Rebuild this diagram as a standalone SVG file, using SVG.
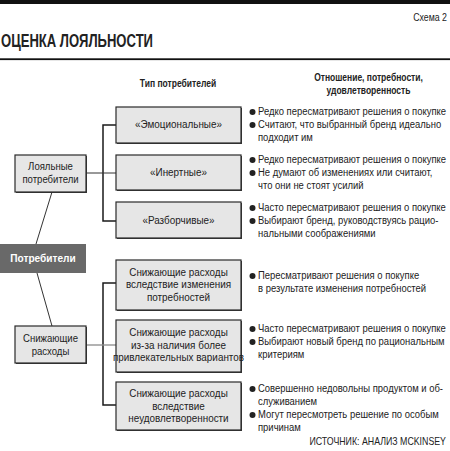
<svg xmlns="http://www.w3.org/2000/svg" width="450" height="451" viewBox="0 0 450 451">
<style>
text{font-family:"Liberation Sans",Arial,sans-serif;fill:#222}
.t{font-size:11px}
.c{text-anchor:middle}
.h{font-size:10.5px;font-weight:bold;text-anchor:middle}
.box{fill:#e6e6e6;stroke:#2a2a2a;stroke-width:1.2}
.sh{fill:#3a3a3a}
.ln{stroke:#1a1a1a;stroke-width:1.5;fill:none}
.lt{stroke:#333;stroke-width:1;fill:none}
.lg{stroke:#8a8a8a;stroke-width:1.3;fill:none}
</style>
<rect x="0" y="0" width="450" height="451" fill="#fff"/>
<rect x="0" y="0" width="450" height="4" fill="#111"/>
<g transform="matrix(0.8 0 0 1 89.4 0)"><text x="447" y="21" class="t" text-anchor="end" fill="#333">Схема 2</text></g>
<text x="1" y="47" font-size="18" font-weight="bold" textLength="152" lengthAdjust="spacingAndGlyphs" fill="#111">ОЦЕНКА ЛОЯЛЬНОСТИ</text>
<rect x="0" y="58.3" width="450" height="1.8" fill="#111"/>
<g transform="matrix(0.81 0 0 1 33.82 0)"><text x="178" y="87" class="h">Тип потребителей</text></g>
<g transform="matrix(0.81 0 0 1 70.02 0)">
<text x="368.5" y="81" class="h">Отношение, потребности,</text>
<text x="368.5" y="94" class="h">удовлетворенность</text>
</g>

<g id="connectors">
<path class="ln" d="M116,125 H103 V221 H116"/>
<path class="lt" d="M86,173 H116"/>
<path class="ln" d="M116,283 H103 V405 H116"/>
<path class="lg" d="M86,345 H116"/>
<path class="lt" d="M52,192 L36,244"/>
<path class="lt" d="M37,273 L52,326"/>
</g>

<g id="root">
<rect x="0" y="244" width="86" height="29" fill="#696969"/>
<g transform="matrix(0.92 0 0 1 3.44 0)"><text x="43" y="262.5" class="c" font-size="11" font-weight="bold" style="fill:#fff">Потребители</text></g>
</g>
<g id="loyal">
<rect class="sh" x="16" y="156" width="71" height="37"/>
<rect class="box" x="15" y="155" width="71" height="37"/>
<g transform="matrix(0.87 0 0 1 6.565 0)">
<text x="50.5" y="170" class="t c">Лояльные</text>
<text x="50.5" y="183" class="t c">потребители</text>
</g>
</g>
<g id="reducing">
<rect class="sh" x="16" y="327" width="71" height="37"/>
<rect class="box" x="15" y="326" width="71" height="37"/>
<g transform="matrix(0.87 0 0 1 6.565 0)">
<text x="50.5" y="342.5" class="t c">Снижающие</text>
<text x="50.5" y="355" class="t c">расходы</text>
</g>
</g>

<g id="emo">
<rect class="sh" x="117" y="108" width="125" height="36"/>
<rect class="box" x="116" y="107" width="125" height="36"/>
<g transform="matrix(0.9 0 0 1 17.85 0)"><text x="178.5" y="128.5" class="t c">«Эмоциональные»</text></g>
</g>
<g id="inert">
<rect class="sh" x="117" y="156" width="125" height="35"/>
<rect class="box" x="116" y="155" width="125" height="35"/>
<g transform="matrix(0.9 0 0 1 17.85 0)"><text x="178.5" y="176.5" class="t c">«Инертные»</text></g>
</g>
<g id="picky">
<rect class="sh" x="117" y="203" width="125" height="36"/>
<rect class="box" x="116" y="202" width="125" height="36"/>
<g transform="matrix(0.9 0 0 1 17.85 0)"><text x="178.5" y="224.5" class="t c">«Разборчивые»</text></g>
</g>
<g id="needs">
<rect class="sh" x="117" y="261" width="125" height="50"/>
<rect class="box" x="116" y="260" width="125" height="50"/>
<g transform="matrix(0.9 0 0 1 17.85 0)">
<text x="178.5" y="276" class="t c">Снижающие расходы</text>
<text x="178.5" y="288.5" class="t c">вследствие изменения</text>
<text x="178.5" y="301" class="t c">потребностей</text>
</g>
</g>
<g id="better">
<rect class="sh" x="117" y="321" width="125" height="52"/>
<rect class="box" x="116" y="320" width="125" height="52"/>
<g transform="matrix(0.9 0 0 1 17.85 0)">
<text x="178.5" y="336.5" class="t c">Снижающие расходы</text>
<text x="178.5" y="349" class="t c">из-за наличия более</text>
<text x="178.5" y="361.5" class="t c">привлекательных вариантов</text>
</g>
</g>
<g id="unsat">
<rect class="sh" x="117" y="383" width="125" height="48"/>
<rect class="box" x="116" y="382" width="125" height="48"/>
<g transform="matrix(0.9 0 0 1 17.85 0)">
<text x="178.5" y="397.5" class="t c">Снижающие расходы</text>
<text x="178.5" y="410" class="t c">вследствие</text>
<text x="178.5" y="422.5" class="t c">неудовлетворенности</text>
</g>
</g>

<g id="bullets" fill="#222">
<circle cx="252.5" cy="112" r="3"/>
<circle cx="252.5" cy="125" r="3"/>
<circle cx="252.5" cy="160" r="3"/>
<circle cx="252.5" cy="173" r="3"/>
<circle cx="252.5" cy="208" r="3"/>
<circle cx="252.5" cy="221" r="3"/>
<circle cx="252.5" cy="276" r="3"/>
<circle cx="252.5" cy="329" r="3"/>
<circle cx="252.5" cy="342" r="3"/>
<circle cx="252.5" cy="389" r="3"/>
<circle cx="252.5" cy="415" r="3"/>
</g>
<g id="notes" transform="matrix(0.86 0 0 1 36.12 0)">
<text x="258" y="115.5" class="t">Редко пересматривают решения о покупке</text>
<text x="258" y="128.5" class="t">Считают, что выбранный бренд идеально</text>
<text x="258" y="141.5" class="t">подходит им</text>
<text x="258" y="163.5" class="t">Редко пересматривают решения о покупке</text>
<text x="258" y="176.5" class="t">Не думают об изменениях или считают,</text>
<text x="258" y="189.5" class="t">что они не стоят усилий</text>
<text x="258" y="211.5" class="t">Часто пересматривают решения о покупке</text>
<text x="258" y="224.5" class="t">Выбирают бренд, руководствуясь рацио-</text>
<text x="258" y="237.5" class="t">нальными соображениями</text>
<text x="258" y="279.5" class="t">Пересматривают решения о покупке</text>
<text x="258" y="292.5" class="t">в результате изменения потребностей</text>
<text x="258" y="332.5" class="t">Часто пересматривают решения о покупке</text>
<text x="258" y="345.5" class="t">Выбирают новый бренд по рациональным</text>
<text x="258" y="358.5" class="t">критериям</text>
<text x="258" y="392.5" class="t">Совершенно недовольны продуктом и об-</text>
<text x="258" y="405.5" class="t">служиванием</text>
<text x="258" y="418.5" class="t">Могут пересмотреть решение по особым</text>
<text x="258" y="431.5" class="t">причинам</text>
</g>
<g transform="matrix(0.8 0 0 1 89.2 0)"><text x="446" y="445" class="t" text-anchor="end" font-size="10.5">ИСТОЧНИК: АНАЛИЗ MCKINSEY</text></g>
</svg>
